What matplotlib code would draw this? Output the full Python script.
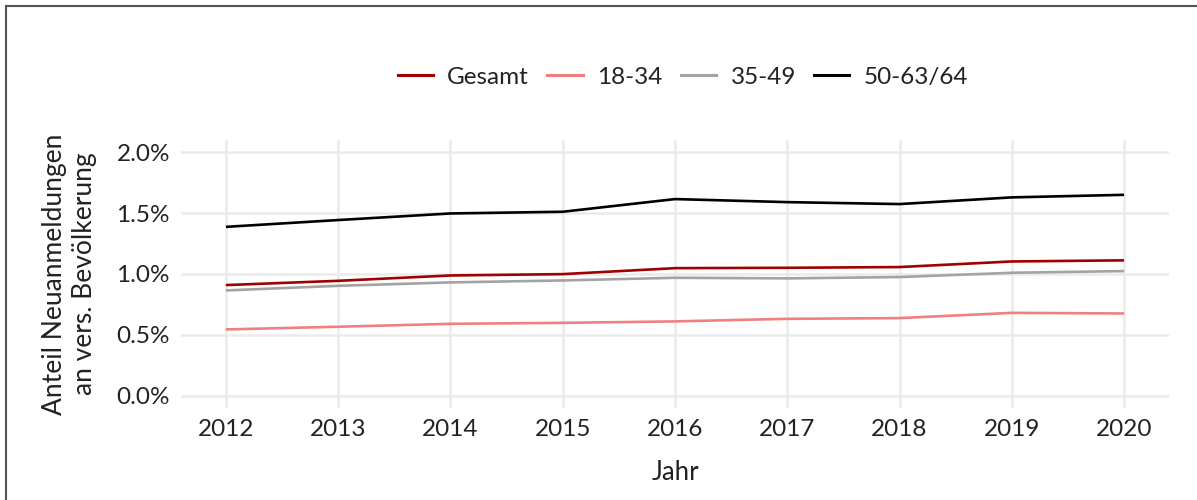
import matplotlib.pyplot as plt
from matplotlib.lines import Line2D
from matplotlib.ticker import FuncFormatter

plt.rcParams['font.family'] = ['Lato', 'DejaVu Sans']

years = [2012, 2013, 2014, 2015, 2016, 2017, 2018, 2019, 2020]
gesamt = [0.909, 0.944, 0.988, 0.999, 1.048, 1.051, 1.057, 1.103, 1.112]
g18_34 = [0.545, 0.567, 0.591, 0.599, 0.611, 0.632, 0.638, 0.681, 0.676]
g35_49 = [0.865, 0.903, 0.931, 0.947, 0.969, 0.964, 0.975, 1.010, 1.024]
g50_64 = [1.387, 1.443, 1.497, 1.511, 1.615, 1.590, 1.574, 1.629, 1.650]

series = [("Gesamt", gesamt, "#A00000"),
          ("18-34", g18_34, "#F08080"),
          ("35-49", g35_49, "#A3A3A3"),
          ("50-63/64", g50_64, "#000000")]

fig = plt.figure(figsize=(11.97, 5.0), dpi=100)
ax = fig.add_axes([181 / 1197, 1 - 408 / 500, (1169 - 181) / 1197, (408 - 140) / 500])

for name, vals, col in series:
    ax.plot(years, vals, color=col, lw=1.9, label=name, solid_capstyle='butt')

ax.set_xlim(2011.6, 2020.4)
ax.set_ylim(-0.1, 2.1)
ax.set_xticks(years)
ax.set_yticks([0, 0.5, 1.0, 1.5, 2.0])
ax.yaxis.set_major_formatter(FuncFormatter(lambda v, p: f"{v:.1f}%"))
ax.grid(True, color="#EBEBEB", lw=1.8)
ax.set_axisbelow(True)
for s in ax.spines.values():
    s.set_visible(False)
ax.tick_params(length=0, labelsize=17.5, labelcolor="#222222", pad=8)

ax.set_xlabel("Jahr", fontsize=18.5, color="#222222", labelpad=14)
ax.set_ylabel("Anteil Neuanmeldungen\nan vers. Bevölkerung", fontsize=19,
              color="#222222", labelpad=14, linespacing=1.25)

handles = [Line2D([], [], color=c, lw=2.2) for _, _, c in series]
fig.legend(handles, [n for n, _, _ in series], loc="center", ncol=4,
           bbox_to_anchor=(683 / 1197, 1 - 77 / 500), frameon=False,
           fontsize=17.5, handlelength=1.45, columnspacing=0.75, handletextpad=0.6,
           labelcolor="#222222")

# Rahmen links und oben
fig.add_artist(Line2D([6 / 1197, 6 / 1197], [0, 1 - 6 / 500], color="#555555", lw=1.5))
fig.add_artist(Line2D([6 / 1197, 1], [1 - 6 / 500, 1 - 6 / 500], color="#555555", lw=1.5))

fig.savefig("out.png", dpi=100)
